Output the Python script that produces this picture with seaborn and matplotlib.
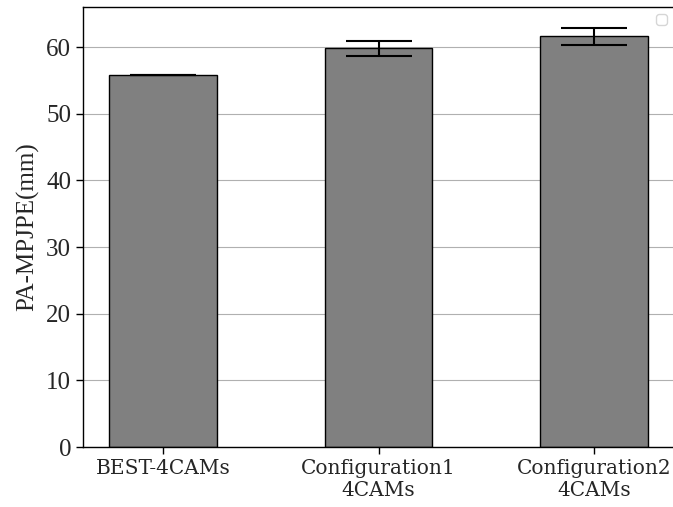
import matplotlib
matplotlib.use("Agg")
import matplotlib.pyplot as plt
import seaborn as sns
import pandas as pd

# Mean PA-MPJPE per camera setup, with standard deviation
setups = ["BEST-4CAMs", "Configuration1\n4CAMs", "Configuration2\n4CAMs"]
mpjpe_mean = [55.8, 59.8, 61.6]
mpjpe_std = [0.05, 1.15, 1.25]

df = pd.DataFrame({"setup": setups, "mpjpe": mpjpe_mean})

sns.set_style("white")
fig = plt.figure(figsize=(6.73, 5.07), dpi=100)
ax = fig.add_axes([83 / 673, 60 / 507, 591 / 673, 440 / 507])

sns.barplot(data=df, x="setup", y="mpjpe", color="#808080", saturation=1,
            edgecolor="black", linewidth=1.0, width=0.5, errorbar=None, ax=ax)
ax.errorbar(range(len(setups)), mpjpe_mean, yerr=mpjpe_std, fmt="none",
            ecolor="black", elinewidth=1.5, capsize=24, capthick=1.5)

ax.set_xlim(-0.372, 2.372)
ax.set_ylim(0, 66)
ax.set_yticks(range(0, 61, 10))
ax.set_axisbelow(True)
ax.yaxis.grid(True, color="#b0b0b0", linewidth=0.8)
ax.xaxis.grid(False)

ax.set_xlabel("")
ax.set_ylabel("PA-MPJPE(mm)", family="Liberation Serif", fontsize=18, labelpad=5)
for lbl in ax.get_yticklabels():
    lbl.set_family("Liberation Serif")
    lbl.set_fontsize(18)
for lbl in ax.get_xticklabels():
    lbl.set_family("DejaVu Serif")
    lbl.set_fontsize(14.5)
ax.tick_params(axis="both", direction="out", length=5, width=1, color="black",
               bottom=True, left=True)
for s in ax.spines.values():
    s.set_color("black")
    s.set_linewidth(1.0)

ax.legend(handles=[], loc="upper right")

fig.savefig("out.png", dpi=100)
